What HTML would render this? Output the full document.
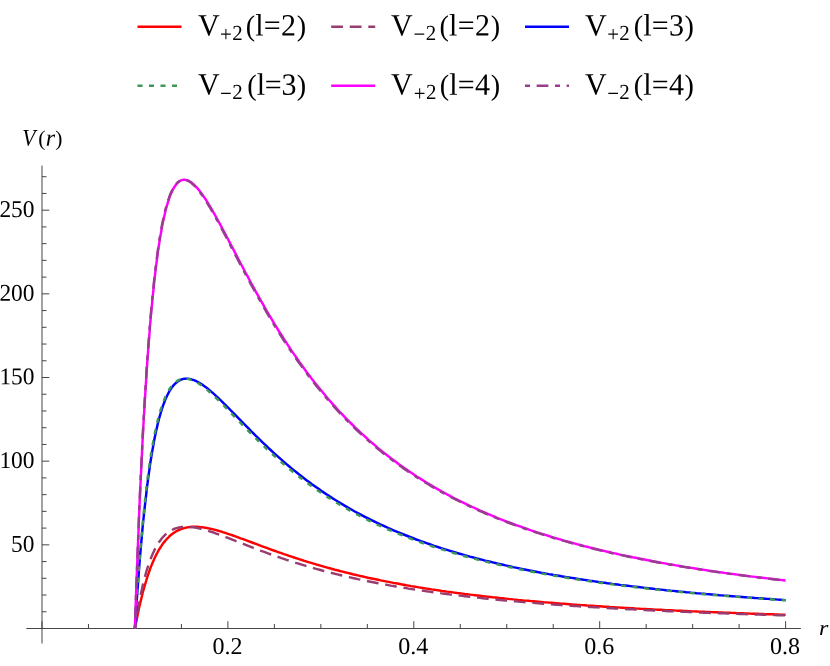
<!DOCTYPE html>
<html><head><meta charset="utf-8"><title>V(r)</title><style>
html,body{margin:0;padding:0;background:#fff;}
body{width:830px;height:666px;position:relative;overflow:hidden;font-family:"Liberation Serif",serif;}
</style></head><body>
<svg width="830" height="666" viewBox="0 0 830 666" style="position:absolute;left:0;top:0;will-change:transform">
<g stroke="#3c3c3c" stroke-width="0.95" fill="none">
<line x1="26.3" y1="628.5" x2="800.9" y2="628.5"/>
<line x1="42" y1="165.5" x2="42" y2="643.5"/>
<line x1="42.00" y1="628.5" x2="42.00" y2="621.20"/>
<line x1="88.47" y1="628.5" x2="88.47" y2="624.00"/>
<line x1="134.95" y1="628.5" x2="134.95" y2="624.00"/>
<line x1="181.43" y1="628.5" x2="181.43" y2="624.00"/>
<line x1="227.90" y1="628.5" x2="227.90" y2="621.20"/>
<line x1="274.38" y1="628.5" x2="274.38" y2="624.00"/>
<line x1="320.85" y1="628.5" x2="320.85" y2="624.00"/>
<line x1="367.33" y1="628.5" x2="367.33" y2="624.00"/>
<line x1="413.80" y1="628.5" x2="413.80" y2="621.20"/>
<line x1="460.28" y1="628.5" x2="460.28" y2="624.00"/>
<line x1="506.75" y1="628.5" x2="506.75" y2="624.00"/>
<line x1="553.23" y1="628.5" x2="553.23" y2="624.00"/>
<line x1="599.70" y1="628.5" x2="599.70" y2="621.20"/>
<line x1="646.18" y1="628.5" x2="646.18" y2="624.00"/>
<line x1="692.65" y1="628.5" x2="692.65" y2="624.00"/>
<line x1="739.12" y1="628.5" x2="739.12" y2="624.00"/>
<line x1="785.60" y1="628.5" x2="785.60" y2="621.20"/>
<line x1="42" y1="611.77" x2="46.50" y2="611.77"/>
<line x1="42" y1="595.03" x2="46.50" y2="595.03"/>
<line x1="42" y1="578.30" x2="46.50" y2="578.30"/>
<line x1="42" y1="561.57" x2="46.50" y2="561.57"/>
<line x1="42" y1="544.84" x2="49.30" y2="544.84"/>
<line x1="42" y1="528.10" x2="46.50" y2="528.10"/>
<line x1="42" y1="511.37" x2="46.50" y2="511.37"/>
<line x1="42" y1="494.64" x2="46.50" y2="494.64"/>
<line x1="42" y1="477.90" x2="46.50" y2="477.90"/>
<line x1="42" y1="461.17" x2="49.30" y2="461.17"/>
<line x1="42" y1="444.44" x2="46.50" y2="444.44"/>
<line x1="42" y1="427.70" x2="46.50" y2="427.70"/>
<line x1="42" y1="410.97" x2="46.50" y2="410.97"/>
<line x1="42" y1="394.24" x2="46.50" y2="394.24"/>
<line x1="42" y1="377.50" x2="49.30" y2="377.50"/>
<line x1="42" y1="360.77" x2="46.50" y2="360.77"/>
<line x1="42" y1="344.04" x2="46.50" y2="344.04"/>
<line x1="42" y1="327.31" x2="46.50" y2="327.31"/>
<line x1="42" y1="310.57" x2="46.50" y2="310.57"/>
<line x1="42" y1="293.84" x2="49.30" y2="293.84"/>
<line x1="42" y1="277.11" x2="46.50" y2="277.11"/>
<line x1="42" y1="260.37" x2="46.50" y2="260.37"/>
<line x1="42" y1="243.64" x2="46.50" y2="243.64"/>
<line x1="42" y1="226.91" x2="46.50" y2="226.91"/>
<line x1="42" y1="210.18" x2="49.30" y2="210.18"/>
<line x1="42" y1="193.44" x2="46.50" y2="193.44"/>
<line x1="42" y1="176.71" x2="46.50" y2="176.71"/>
</g>
<g fill="none" stroke-width="2.45" stroke-linejoin="round">
<path d="M134.9,628.5 L135.5,625.4 L136.1,622.3 L136.7,619.4 L137.3,616.5 L137.9,613.6 L138.5,610.9 L139.0,608.2 L139.6,605.6 L140.2,603.1 L140.8,600.6 L141.4,598.2 L142.0,595.8 L142.5,593.5 L143.1,591.3 L143.7,589.2 L144.3,587.1 L144.9,585.0 L145.5,583.0 L146.1,581.1 L146.6,579.2 L147.2,577.3 L147.8,575.6 L148.4,573.8 L149.0,572.1 L149.6,570.5 L150.1,568.9 L150.7,567.4 L151.3,565.9 L151.9,564.4 L152.5,563.0 L153.1,561.6 L153.7,560.3 L154.2,559.0 L154.8,557.7 L155.4,556.5 L156.0,555.3 L156.6,554.1 L157.2,553.0 L157.7,552.0 L158.3,550.9 L158.9,549.9 L159.5,548.9 L160.1,548.0 L160.7,547.0 L161.3,546.1 L161.8,545.3 L162.4,544.4 L163.0,543.6 L163.6,542.8 L164.2,542.1 L164.8,541.4 L165.3,540.6 L165.9,540.0 L166.5,539.3 L167.1,538.7 L167.7,538.1 L168.3,537.5 L168.9,536.9 L169.4,536.3 L170.0,535.8 L170.6,535.3 L171.2,534.8 L171.8,534.3 L172.4,533.9 L172.9,533.5 L173.5,533.0 L174.1,532.6 L174.7,532.3 L175.3,531.9 L175.9,531.5 L176.5,531.2 L177.0,530.9 L177.6,530.6 L178.2,530.3 L178.8,530.0 L179.4,529.8 L180.0,529.5 L180.5,529.3 L181.1,529.0 L181.7,528.8 L182.3,528.6 L182.9,528.5 L183.5,528.3 L184.1,528.1 L184.6,528.0 L185.2,527.8 L185.8,527.7 L186.4,527.6 L187.0,527.4 L187.6,527.3 L188.1,527.2 L188.7,527.2 L189.3,527.1 L189.9,527.0 L190.5,527.0 L191.1,526.9 L191.7,526.9 L192.2,526.8 L192.8,526.8 L193.4,526.8 L194.0,526.8 L194.6,526.8 L195.2,526.8 L195.7,526.8 L196.3,526.8 L196.9,526.8 L197.5,526.8 L198.1,526.9 L198.7,526.9 L199.3,527.0 L199.8,527.0 L200.4,527.1 L201.0,527.1 L201.6,527.2 L202.2,527.3 L202.8,527.3 L203.3,527.4 L203.9,527.5 L204.5,527.6 L205.1,527.7 L205.7,527.8 L206.3,527.9 L206.9,528.0 L207.4,528.1 L208.0,528.2 L208.6,528.4 L209.2,528.5 L209.8,528.6 L210.4,528.7 L210.9,528.9 L211.5,529.0 L212.1,529.1 L212.7,529.3 L213.3,529.4 L213.9,529.6 L214.5,529.7 L215.0,529.9 L215.6,530.0 L216.2,530.2 L216.8,530.4 L217.4,530.5 L218.0,530.7 L218.5,530.8 L219.1,531.0 L219.7,531.2 L220.3,531.4 L220.9,531.5 L221.5,531.7 L222.1,531.9 L222.6,532.1 L223.2,532.3 L223.8,532.4 L224.4,532.6 L225.0,532.8 L225.6,533.0 L226.1,533.2 L226.7,533.4 L227.3,533.6 L227.9,533.8 L230.4,534.6 L233.0,535.5 L235.5,536.4 L238.1,537.3 L240.6,538.3 L243.2,539.2 L245.7,540.1 L248.3,541.1 L250.8,542.0 L253.4,543.0 L255.9,543.9 L258.5,544.9 L261.0,545.8 L263.6,546.8 L266.1,547.7 L268.6,548.6 L271.2,549.6 L273.7,550.5 L276.3,551.4 L278.8,552.3 L281.4,553.2 L283.9,554.1 L286.5,554.9 L289.0,555.8 L291.6,556.7 L294.1,557.5 L296.7,558.3 L299.2,559.2 L301.8,560.0 L304.3,560.8 L306.8,561.6 L309.4,562.4 L311.9,563.1 L314.5,563.9 L317.0,564.7 L319.6,565.4 L322.1,566.1 L324.7,566.9 L327.2,567.6 L329.8,568.3 L332.3,569.0 L334.9,569.7 L337.4,570.3 L339.9,571.0 L342.5,571.6 L345.0,572.3 L347.6,572.9 L350.1,573.5 L352.7,574.2 L355.2,574.8 L357.8,575.4 L360.3,576.0 L362.9,576.5 L365.4,577.1 L368.0,577.7 L370.5,578.2 L373.1,578.8 L375.6,579.3 L378.1,579.8 L380.7,580.4 L383.2,580.9 L385.8,581.4 L388.3,581.9 L390.9,582.4 L393.4,582.9 L396.0,583.3 L398.5,583.8 L401.1,584.3 L403.6,584.7 L406.2,585.2 L408.7,585.6 L411.3,586.1 L413.8,586.5 L416.3,586.9 L418.9,587.4 L421.4,587.8 L424.0,588.2 L426.5,588.6 L429.1,589.0 L431.6,589.4 L434.2,589.7 L436.7,590.1 L439.3,590.5 L441.8,590.9 L444.4,591.2 L446.9,591.6 L449.5,591.9 L452.0,592.3 L454.5,592.6 L457.1,593.0 L459.6,593.3 L462.2,593.6 L464.7,594.0 L467.3,594.3 L469.8,594.6 L472.4,594.9 L474.9,595.2 L477.5,595.5 L480.0,595.8 L482.6,596.1 L485.1,596.4 L487.7,596.7 L490.2,597.0 L492.7,597.3 L495.3,597.5 L497.8,597.8 L500.4,598.1 L502.9,598.3 L505.5,598.6 L508.0,598.9 L510.6,599.1 L513.1,599.4 L515.7,599.6 L518.2,599.9 L520.8,600.1 L523.3,600.4 L525.8,600.6 L528.4,600.8 L530.9,601.1 L533.5,601.3 L536.0,601.5 L538.6,601.7 L541.1,601.9 L543.7,602.2 L546.2,602.4 L548.8,602.6 L551.3,602.8 L553.9,603.0 L556.4,603.2 L559.0,603.4 L561.5,603.6 L564.0,603.8 L566.6,604.0 L569.1,604.2 L571.7,604.4 L574.2,604.6 L576.8,604.8 L579.3,604.9 L581.9,605.1 L584.4,605.3 L587.0,605.5 L589.5,605.6 L592.1,605.8 L594.6,606.0 L597.2,606.2 L599.7,606.3 L602.2,606.5 L604.8,606.7 L607.3,606.8 L609.9,607.0 L612.4,607.1 L615.0,607.3 L617.5,607.4 L620.1,607.6 L622.6,607.7 L625.2,607.9 L627.7,608.0 L630.3,608.2 L632.8,608.3 L635.4,608.5 L637.9,608.6 L640.4,608.8 L643.0,608.9 L645.5,609.0 L648.1,609.2 L650.6,609.3 L653.2,609.4 L655.7,609.6 L658.3,609.7 L660.8,609.8 L663.4,609.9 L665.9,610.1 L668.5,610.2 L671.0,610.3 L673.6,610.4 L676.1,610.6 L678.6,610.7 L681.2,610.8 L683.7,610.9 L686.3,611.0 L688.8,611.1 L691.4,611.3 L693.9,611.4 L696.5,611.5 L699.0,611.6 L701.6,611.7 L704.1,611.8 L706.7,611.9 L709.2,612.0 L711.7,612.1 L714.3,612.2 L716.8,612.3 L719.4,612.4 L721.9,612.5 L724.5,612.6 L727.0,612.7 L729.6,612.8 L732.1,612.9 L734.7,613.0 L737.2,613.1 L739.8,613.2 L742.3,613.3 L744.9,613.4 L747.4,613.5 L749.9,613.6 L752.5,613.7 L755.0,613.7 L757.6,613.8 L760.1,613.9 L762.7,614.0 L765.2,614.1 L767.8,614.2 L770.3,614.3 L772.9,614.3 L775.4,614.4 L778.0,614.5 L780.5,614.6 L783.1,614.7 L785.6,614.7" stroke="#ff0000"/>
<path d="M134.9,628.5 L135.5,624.5 L136.1,620.6 L136.7,616.9 L137.3,613.4 L137.9,609.9 L138.5,606.6 L139.0,603.4 L139.6,600.3 L140.2,597.3 L140.8,594.4 L141.4,591.6 L142.0,589.0 L142.5,586.4 L143.1,583.9 L143.7,581.5 L144.3,579.2 L144.9,577.0 L145.5,574.8 L146.1,572.7 L146.6,570.7 L147.2,568.8 L147.8,567.0 L148.4,565.2 L149.0,563.5 L149.6,561.8 L150.1,560.2 L150.7,558.7 L151.3,557.2 L151.9,555.8 L152.5,554.4 L153.1,553.1 L153.7,551.8 L154.2,550.6 L154.8,549.4 L155.4,548.3 L156.0,547.2 L156.6,546.1 L157.2,545.1 L157.7,544.2 L158.3,543.2 L158.9,542.3 L159.5,541.5 L160.1,540.7 L160.7,539.9 L161.3,539.1 L161.8,538.4 L162.4,537.7 L163.0,537.0 L163.6,536.4 L164.2,535.8 L164.8,535.2 L165.3,534.7 L165.9,534.1 L166.5,533.6 L167.1,533.1 L167.7,532.7 L168.3,532.3 L168.9,531.8 L169.4,531.4 L170.0,531.1 L170.6,530.7 L171.2,530.4 L171.8,530.1 L172.4,529.8 L172.9,529.5 L173.5,529.2 L174.1,529.0 L174.7,528.7 L175.3,528.5 L175.9,528.3 L176.5,528.1 L177.0,528.0 L177.6,527.8 L178.2,527.7 L178.8,527.5 L179.4,527.4 L180.0,527.3 L180.5,527.2 L181.1,527.1 L181.7,527.0 L182.3,527.0 L182.9,526.9 L183.5,526.8 L184.1,526.8 L184.6,526.8 L185.2,526.8 L185.8,526.8 L186.4,526.8 L187.0,526.8 L187.6,526.8 L188.1,526.8 L188.7,526.8 L189.3,526.9 L189.9,526.9 L190.5,527.0 L191.1,527.0 L191.7,527.1 L192.2,527.2 L192.8,527.2 L193.4,527.3 L194.0,527.4 L194.6,527.5 L195.2,527.6 L195.7,527.7 L196.3,527.8 L196.9,527.9 L197.5,528.0 L198.1,528.2 L198.7,528.3 L199.3,528.4 L199.8,528.6 L200.4,528.7 L201.0,528.8 L201.6,529.0 L202.2,529.1 L202.8,529.3 L203.3,529.4 L203.9,529.6 L204.5,529.8 L205.1,529.9 L205.7,530.1 L206.3,530.3 L206.9,530.5 L207.4,530.6 L208.0,530.8 L208.6,531.0 L209.2,531.2 L209.8,531.4 L210.4,531.6 L210.9,531.8 L211.5,531.9 L212.1,532.1 L212.7,532.3 L213.3,532.5 L213.9,532.7 L214.5,532.9 L215.0,533.1 L215.6,533.4 L216.2,533.6 L216.8,533.8 L217.4,534.0 L218.0,534.2 L218.5,534.4 L219.1,534.6 L219.7,534.8 L220.3,535.0 L220.9,535.3 L221.5,535.5 L222.1,535.7 L222.6,535.9 L223.2,536.1 L223.8,536.4 L224.4,536.6 L225.0,536.8 L225.6,537.0 L226.1,537.3 L226.7,537.5 L227.3,537.7 L227.9,537.9 L230.4,538.9 L233.0,539.9 L235.5,540.9 L238.1,541.9 L240.6,542.9 L243.2,543.9 L245.7,544.9 L248.3,545.9 L250.8,546.9 L253.4,547.9 L255.9,548.9 L258.5,549.8 L261.0,550.8 L263.6,551.7 L266.1,552.7 L268.6,553.6 L271.2,554.5 L273.7,555.4 L276.3,556.3 L278.8,557.2 L281.4,558.1 L283.9,558.9 L286.5,559.8 L289.0,560.6 L291.6,561.4 L294.1,562.2 L296.7,563.1 L299.2,563.8 L301.8,564.6 L304.3,565.4 L306.8,566.1 L309.4,566.9 L311.9,567.6 L314.5,568.4 L317.0,569.1 L319.6,569.8 L322.1,570.5 L324.7,571.1 L327.2,571.8 L329.8,572.5 L332.3,573.1 L334.9,573.8 L337.4,574.4 L339.9,575.0 L342.5,575.6 L345.0,576.2 L347.6,576.8 L350.1,577.4 L352.7,578.0 L355.2,578.5 L357.8,579.1 L360.3,579.6 L362.9,580.2 L365.4,580.7 L368.0,581.2 L370.5,581.7 L373.1,582.2 L375.6,582.7 L378.1,583.2 L380.7,583.7 L383.2,584.2 L385.8,584.6 L388.3,585.1 L390.9,585.6 L393.4,586.0 L396.0,586.5 L398.5,586.9 L401.1,587.3 L403.6,587.7 L406.2,588.1 L408.7,588.6 L411.3,589.0 L413.8,589.4 L416.3,589.7 L418.9,590.1 L421.4,590.5 L424.0,590.9 L426.5,591.3 L429.1,591.6 L431.6,592.0 L434.2,592.3 L436.7,592.7 L439.3,593.0 L441.8,593.4 L444.4,593.7 L446.9,594.0 L449.5,594.4 L452.0,594.7 L454.5,595.0 L457.1,595.3 L459.6,595.6 L462.2,595.9 L464.7,596.2 L467.3,596.5 L469.8,596.8 L472.4,597.1 L474.9,597.4 L477.5,597.6 L480.0,597.9 L482.6,598.2 L485.1,598.5 L487.7,598.7 L490.2,599.0 L492.7,599.2 L495.3,599.5 L497.8,599.7 L500.4,600.0 L502.9,600.2 L505.5,600.5 L508.0,600.7 L510.6,600.9 L513.1,601.2 L515.7,601.4 L518.2,601.6 L520.8,601.9 L523.3,602.1 L525.8,602.3 L528.4,602.5 L530.9,602.7 L533.5,602.9 L536.0,603.1 L538.6,603.3 L541.1,603.5 L543.7,603.7 L546.2,603.9 L548.8,604.1 L551.3,604.3 L553.9,604.5 L556.4,604.7 L559.0,604.9 L561.5,605.1 L564.0,605.3 L566.6,605.4 L569.1,605.6 L571.7,605.8 L574.2,606.0 L576.8,606.1 L579.3,606.3 L581.9,606.5 L584.4,606.6 L587.0,606.8 L589.5,607.0 L592.1,607.1 L594.6,607.3 L597.2,607.4 L599.7,607.6 L602.2,607.7 L604.8,607.9 L607.3,608.0 L609.9,608.2 L612.4,608.3 L615.0,608.5 L617.5,608.6 L620.1,608.8 L622.6,608.9 L625.2,609.0 L627.7,609.2 L630.3,609.3 L632.8,609.4 L635.4,609.6 L637.9,609.7 L640.4,609.8 L643.0,610.0 L645.5,610.1 L648.1,610.2 L650.6,610.3 L653.2,610.5 L655.7,610.6 L658.3,610.7 L660.8,610.8 L663.4,610.9 L665.9,611.0 L668.5,611.2 L671.0,611.3 L673.6,611.4 L676.1,611.5 L678.6,611.6 L681.2,611.7 L683.7,611.8 L686.3,611.9 L688.8,612.0 L691.4,612.1 L693.9,612.2 L696.5,612.4 L699.0,612.5 L701.6,612.6 L704.1,612.7 L706.7,612.8 L709.2,612.9 L711.7,612.9 L714.3,613.0 L716.8,613.1 L719.4,613.2 L721.9,613.3 L724.5,613.4 L727.0,613.5 L729.6,613.6 L732.1,613.7 L734.7,613.8 L737.2,613.9 L739.8,614.0 L742.3,614.0 L744.9,614.1 L747.4,614.2 L749.9,614.3 L752.5,614.4 L755.0,614.5 L757.6,614.5 L760.1,614.6 L762.7,614.7 L765.2,614.8 L767.8,614.9 L770.3,614.9 L772.9,615.0 L775.4,615.1 L778.0,615.2 L780.5,615.2 L783.1,615.3 L785.6,615.4" stroke="#993d71" stroke-dasharray="11.75 6.8" stroke-dashoffset="3"/>
<path d="M134.9,628.5 L135.5,619.2 L136.1,610.1 L136.7,601.4 L137.3,593.0 L137.9,584.8 L138.5,576.9 L139.0,569.3 L139.6,561.9 L140.2,554.7 L140.8,547.8 L141.4,541.2 L142.0,534.7 L142.5,528.5 L143.1,522.5 L143.7,516.7 L144.3,511.0 L144.9,505.6 L145.5,500.4 L146.1,495.3 L146.6,490.4 L147.2,485.7 L147.8,481.1 L148.4,476.7 L149.0,472.4 L149.6,468.3 L150.1,464.3 L150.7,460.5 L151.3,456.8 L151.9,453.2 L152.5,449.8 L153.1,446.5 L153.7,443.3 L154.2,440.2 L154.8,437.2 L155.4,434.4 L156.0,431.6 L156.6,429.0 L157.2,426.4 L157.7,424.0 L158.3,421.6 L158.9,419.3 L159.5,417.1 L160.1,415.1 L160.7,413.0 L161.3,411.1 L161.8,409.2 L162.4,407.5 L163.0,405.7 L163.6,404.1 L164.2,402.5 L164.8,401.0 L165.3,399.6 L165.9,398.2 L166.5,396.9 L167.1,395.7 L167.7,394.5 L168.3,393.3 L168.9,392.2 L169.4,391.2 L170.0,390.2 L170.6,389.3 L171.2,388.4 L171.8,387.6 L172.4,386.8 L172.9,386.1 L173.5,385.4 L174.1,384.7 L174.7,384.1 L175.3,383.5 L175.9,383.0 L176.5,382.5 L177.0,382.0 L177.6,381.6 L178.2,381.2 L178.8,380.8 L179.4,380.5 L180.0,380.2 L180.5,379.9 L181.1,379.6 L181.7,379.4 L182.3,379.2 L182.9,379.1 L183.5,378.9 L184.1,378.8 L184.6,378.8 L185.2,378.7 L185.8,378.7 L186.4,378.6 L187.0,378.6 L187.6,378.7 L188.1,378.7 L188.7,378.8 L189.3,378.9 L189.9,379.0 L190.5,379.1 L191.1,379.2 L191.7,379.4 L192.2,379.6 L192.8,379.8 L193.4,380.0 L194.0,380.2 L194.6,380.4 L195.2,380.7 L195.7,380.9 L196.3,381.2 L196.9,381.5 L197.5,381.8 L198.1,382.1 L198.7,382.4 L199.3,382.8 L199.8,383.1 L200.4,383.5 L201.0,383.8 L201.6,384.2 L202.2,384.6 L202.8,385.0 L203.3,385.4 L203.9,385.8 L204.5,386.2 L205.1,386.7 L205.7,387.1 L206.3,387.6 L206.9,388.0 L207.4,388.5 L208.0,388.9 L208.6,389.4 L209.2,389.9 L209.8,390.4 L210.4,390.9 L210.9,391.4 L211.5,391.9 L212.1,392.4 L212.7,392.9 L213.3,393.4 L213.9,393.9 L214.5,394.5 L215.0,395.0 L215.6,395.5 L216.2,396.1 L216.8,396.6 L217.4,397.2 L218.0,397.7 L218.5,398.3 L219.1,398.8 L219.7,399.4 L220.3,399.9 L220.9,400.5 L221.5,401.1 L222.1,401.6 L222.6,402.2 L223.2,402.8 L223.8,403.4 L224.4,403.9 L225.0,404.5 L225.6,405.1 L226.1,405.7 L226.7,406.3 L227.3,406.9 L227.9,407.4 L230.4,410.0 L233.0,412.6 L235.5,415.2 L238.1,417.8 L240.6,420.4 L243.2,423.0 L245.7,425.6 L248.3,428.2 L250.8,430.8 L253.4,433.3 L255.9,435.9 L258.5,438.4 L261.0,440.9 L263.6,443.3 L266.1,445.7 L268.6,448.1 L271.2,450.5 L273.7,452.8 L276.3,455.2 L278.8,457.4 L281.4,459.7 L283.9,461.9 L286.5,464.1 L289.0,466.2 L291.6,468.4 L294.1,470.4 L296.7,472.5 L299.2,474.5 L301.8,476.5 L304.3,478.5 L306.8,480.4 L309.4,482.3 L311.9,484.2 L314.5,486.0 L317.0,487.8 L319.6,489.6 L322.1,491.4 L324.7,493.1 L327.2,494.8 L329.8,496.4 L332.3,498.1 L334.9,499.7 L337.4,501.3 L339.9,502.8 L342.5,504.4 L345.0,505.9 L347.6,507.4 L350.1,508.8 L352.7,510.3 L355.2,511.7 L357.8,513.1 L360.3,514.4 L362.9,515.8 L365.4,517.1 L368.0,518.4 L370.5,519.7 L373.1,520.9 L375.6,522.2 L378.1,523.4 L380.7,524.6 L383.2,525.7 L385.8,526.9 L388.3,528.0 L390.9,529.2 L393.4,530.3 L396.0,531.4 L398.5,532.4 L401.1,533.5 L403.6,534.5 L406.2,535.5 L408.7,536.5 L411.3,537.5 L413.8,538.5 L416.3,539.5 L418.9,540.4 L421.4,541.3 L424.0,542.2 L426.5,543.2 L429.1,544.0 L431.6,544.9 L434.2,545.8 L436.7,546.6 L439.3,547.5 L441.8,548.3 L444.4,549.1 L446.9,549.9 L449.5,550.7 L452.0,551.4 L454.5,552.2 L457.1,553.0 L459.6,553.7 L462.2,554.4 L464.7,555.2 L467.3,555.9 L469.8,556.6 L472.4,557.2 L474.9,557.9 L477.5,558.6 L480.0,559.3 L482.6,559.9 L485.1,560.6 L487.7,561.2 L490.2,561.8 L492.7,562.4 L495.3,563.0 L497.8,563.6 L500.4,564.2 L502.9,564.8 L505.5,565.4 L508.0,565.9 L510.6,566.5 L513.1,567.1 L515.7,567.6 L518.2,568.1 L520.8,568.7 L523.3,569.2 L525.8,569.7 L528.4,570.2 L530.9,570.7 L533.5,571.2 L536.0,571.7 L538.6,572.2 L541.1,572.7 L543.7,573.1 L546.2,573.6 L548.8,574.1 L551.3,574.5 L553.9,575.0 L556.4,575.4 L559.0,575.8 L561.5,576.3 L564.0,576.7 L566.6,577.1 L569.1,577.5 L571.7,577.9 L574.2,578.3 L576.8,578.7 L579.3,579.1 L581.9,579.5 L584.4,579.9 L587.0,580.3 L589.5,580.7 L592.1,581.0 L594.6,581.4 L597.2,581.8 L599.7,582.1 L602.2,582.5 L604.8,582.8 L607.3,583.2 L609.9,583.5 L612.4,583.9 L615.0,584.2 L617.5,584.5 L620.1,584.9 L622.6,585.2 L625.2,585.5 L627.7,585.8 L630.3,586.1 L632.8,586.4 L635.4,586.7 L637.9,587.0 L640.4,587.3 L643.0,587.6 L645.5,587.9 L648.1,588.2 L650.6,588.5 L653.2,588.8 L655.7,589.1 L658.3,589.3 L660.8,589.6 L663.4,589.9 L665.9,590.2 L668.5,590.4 L671.0,590.7 L673.6,590.9 L676.1,591.2 L678.6,591.5 L681.2,591.7 L683.7,591.9 L686.3,592.2 L688.8,592.4 L691.4,592.7 L693.9,592.9 L696.5,593.2 L699.0,593.4 L701.6,593.6 L704.1,593.8 L706.7,594.1 L709.2,594.3 L711.7,594.5 L714.3,594.7 L716.8,594.9 L719.4,595.2 L721.9,595.4 L724.5,595.6 L727.0,595.8 L729.6,596.0 L732.1,596.2 L734.7,596.4 L737.2,596.6 L739.8,596.8 L742.3,597.0 L744.9,597.2 L747.4,597.4 L749.9,597.6 L752.5,597.8 L755.0,598.0 L757.6,598.1 L760.1,598.3 L762.7,598.5 L765.2,598.7 L767.8,598.9 L770.3,599.0 L772.9,599.2 L775.4,599.4 L778.0,599.6 L780.5,599.7 L783.1,599.9 L785.6,600.1" stroke="#0000ff"/>
<path d="M134.9,628.5 L135.5,618.7 L136.1,609.2 L136.7,600.1 L137.3,591.3 L137.9,582.8 L138.5,574.6 L139.0,566.7 L139.6,559.1 L140.2,551.7 L140.8,544.6 L141.4,537.8 L142.0,531.1 L142.5,524.8 L143.1,518.6 L143.7,512.7 L144.3,507.0 L144.9,501.5 L145.5,496.1 L146.1,491.0 L146.6,486.1 L147.2,481.3 L147.8,476.7 L148.4,472.3 L149.0,468.0 L149.6,463.9 L150.1,460.0 L150.7,456.2 L151.3,452.5 L151.9,449.0 L152.5,445.6 L153.1,442.3 L153.7,439.1 L154.2,436.1 L154.8,433.2 L155.4,430.4 L156.0,427.7 L156.6,425.1 L157.2,422.6 L157.7,420.2 L158.3,418.0 L158.9,415.8 L159.5,413.6 L160.1,411.6 L160.7,409.7 L161.3,407.8 L161.8,406.1 L162.4,404.4 L163.0,402.7 L163.6,401.2 L164.2,399.7 L164.8,398.3 L165.3,396.9 L165.9,395.6 L166.5,394.4 L167.1,393.2 L167.7,392.1 L168.3,391.1 L168.9,390.1 L169.4,389.1 L170.0,388.2 L170.6,387.4 L171.2,386.6 L171.8,385.9 L172.4,385.1 L172.9,384.5 L173.5,383.9 L174.1,383.3 L174.7,382.7 L175.3,382.2 L175.9,381.8 L176.5,381.4 L177.0,381.0 L177.6,380.6 L178.2,380.3 L178.8,380.0 L179.4,379.7 L180.0,379.5 L180.5,379.3 L181.1,379.1 L181.7,379.0 L182.3,378.9 L182.9,378.8 L183.5,378.7 L184.1,378.7 L184.6,378.6 L185.2,378.6 L185.8,378.7 L186.4,378.7 L187.0,378.8 L187.6,378.9 L188.1,379.0 L188.7,379.1 L189.3,379.2 L189.9,379.4 L190.5,379.6 L191.1,379.8 L191.7,380.0 L192.2,380.2 L192.8,380.4 L193.4,380.7 L194.0,381.0 L194.6,381.2 L195.2,381.5 L195.7,381.9 L196.3,382.2 L196.9,382.5 L197.5,382.9 L198.1,383.2 L198.7,383.6 L199.3,384.0 L199.8,384.3 L200.4,384.7 L201.0,385.1 L201.6,385.6 L202.2,386.0 L202.8,386.4 L203.3,386.9 L203.9,387.3 L204.5,387.8 L205.1,388.2 L205.7,388.7 L206.3,389.2 L206.9,389.7 L207.4,390.1 L208.0,390.6 L208.6,391.1 L209.2,391.7 L209.8,392.2 L210.4,392.7 L210.9,393.2 L211.5,393.7 L212.1,394.3 L212.7,394.8 L213.3,395.4 L213.9,395.9 L214.5,396.4 L215.0,397.0 L215.6,397.6 L216.2,398.1 L216.8,398.7 L217.4,399.3 L218.0,399.8 L218.5,400.4 L219.1,401.0 L219.7,401.5 L220.3,402.1 L220.9,402.7 L221.5,403.3 L222.1,403.9 L222.6,404.5 L223.2,405.1 L223.8,405.6 L224.4,406.2 L225.0,406.8 L225.6,407.4 L226.1,408.0 L226.7,408.6 L227.3,409.2 L227.9,409.8 L230.4,412.5 L233.0,415.1 L235.5,417.7 L238.1,420.4 L240.6,423.0 L243.2,425.6 L245.7,428.2 L248.3,430.8 L250.8,433.4 L253.4,436.0 L255.9,438.5 L258.5,441.0 L261.0,443.5 L263.6,445.9 L266.1,448.3 L268.6,450.7 L271.2,453.1 L273.7,455.4 L276.3,457.7 L278.8,460.0 L281.4,462.2 L283.9,464.4 L286.5,466.5 L289.0,468.7 L291.6,470.8 L294.1,472.8 L296.7,474.9 L299.2,476.9 L301.8,478.8 L304.3,480.8 L306.8,482.7 L309.4,484.6 L311.9,486.4 L314.5,488.2 L317.0,490.0 L319.6,491.8 L322.1,493.5 L324.7,495.2 L327.2,496.9 L329.8,498.5 L332.3,500.1 L334.9,501.7 L337.4,503.3 L339.9,504.8 L342.5,506.3 L345.0,507.8 L347.6,509.2 L350.1,510.7 L352.7,512.1 L355.2,513.5 L357.8,514.8 L360.3,516.2 L362.9,517.5 L365.4,518.8 L368.0,520.1 L370.5,521.3 L373.1,522.6 L375.6,523.8 L378.1,525.0 L380.7,526.2 L383.2,527.3 L385.8,528.5 L388.3,529.6 L390.9,530.7 L393.4,531.8 L396.0,532.8 L398.5,533.9 L401.1,534.9 L403.6,535.9 L406.2,536.9 L408.7,537.9 L411.3,538.9 L413.8,539.8 L416.3,540.8 L418.9,541.7 L421.4,542.6 L424.0,543.5 L426.5,544.4 L429.1,545.3 L431.6,546.1 L434.2,547.0 L436.7,547.8 L439.3,548.6 L441.8,549.4 L444.4,550.2 L446.9,551.0 L449.5,551.8 L452.0,552.5 L454.5,553.3 L457.1,554.0 L459.6,554.8 L462.2,555.5 L464.7,556.2 L467.3,556.9 L469.8,557.6 L472.4,558.2 L474.9,558.9 L477.5,559.6 L480.0,560.2 L482.6,560.9 L485.1,561.5 L487.7,562.1 L490.2,562.7 L492.7,563.3 L495.3,563.9 L497.8,564.5 L500.4,565.1 L502.9,565.7 L505.5,566.2 L508.0,566.8 L510.6,567.3 L513.1,567.9 L515.7,568.4 L518.2,568.9 L520.8,569.5 L523.3,570.0 L525.8,570.5 L528.4,571.0 L530.9,571.5 L533.5,572.0 L536.0,572.4 L538.6,572.9 L541.1,573.4 L543.7,573.9 L546.2,574.3 L548.8,574.8 L551.3,575.2 L553.9,575.6 L556.4,576.1 L559.0,576.5 L561.5,576.9 L564.0,577.3 L566.6,577.8 L569.1,578.2 L571.7,578.6 L574.2,579.0 L576.8,579.4 L579.3,579.8 L581.9,580.1 L584.4,580.5 L587.0,580.9 L589.5,581.3 L592.1,581.6 L594.6,582.0 L597.2,582.3 L599.7,582.7 L602.2,583.0 L604.8,583.4 L607.3,583.7 L609.9,584.1 L612.4,584.4 L615.0,584.7 L617.5,585.1 L620.1,585.4 L622.6,585.7 L625.2,586.0 L627.7,586.3 L630.3,586.6 L632.8,586.9 L635.4,587.2 L637.9,587.5 L640.4,587.8 L643.0,588.1 L645.5,588.4 L648.1,588.7 L650.6,589.0 L653.2,589.2 L655.7,589.5 L658.3,589.8 L660.8,590.1 L663.4,590.3 L665.9,590.6 L668.5,590.8 L671.0,591.1 L673.6,591.4 L676.1,591.6 L678.6,591.9 L681.2,592.1 L683.7,592.4 L686.3,592.6 L688.8,592.8 L691.4,593.1 L693.9,593.3 L696.5,593.5 L699.0,593.8 L701.6,594.0 L704.1,594.2 L706.7,594.4 L709.2,594.7 L711.7,594.9 L714.3,595.1 L716.8,595.3 L719.4,595.5 L721.9,595.7 L724.5,595.9 L727.0,596.1 L729.6,596.3 L732.1,596.5 L734.7,596.7 L737.2,596.9 L739.8,597.1 L742.3,597.3 L744.9,597.5 L747.4,597.7 L749.9,597.9 L752.5,598.1 L755.0,598.3 L757.6,598.4 L760.1,598.6 L762.7,598.8 L765.2,599.0 L767.8,599.2 L770.3,599.3 L772.9,599.5 L775.4,599.7 L778.0,599.8 L780.5,600.0 L783.1,600.2 L785.6,600.3" stroke="#3d9956" stroke-dasharray="5 6.5"/>
<path d="M134.9,628.5 L135.5,610.9 L136.1,593.9 L136.7,577.4 L137.3,561.6 L137.9,546.3 L138.5,531.6 L139.0,517.3 L139.6,503.6 L140.2,490.3 L140.8,477.5 L141.4,465.2 L142.0,453.3 L142.5,441.8 L143.1,430.7 L143.7,420.0 L144.3,409.7 L144.9,399.7 L145.5,390.2 L146.1,380.9 L146.6,372.0 L147.2,363.4 L147.8,355.1 L148.4,347.1 L149.0,339.4 L149.6,332.0 L150.1,324.9 L150.7,318.0 L151.3,311.4 L151.9,305.0 L152.5,298.9 L153.1,293.0 L153.7,287.3 L154.2,281.9 L154.8,276.6 L155.4,271.6 L156.0,266.7 L156.6,262.1 L157.2,257.6 L157.7,253.3 L158.3,249.2 L158.9,245.3 L159.5,241.5 L160.1,237.8 L160.7,234.4 L161.3,231.0 L161.8,227.9 L162.4,224.8 L163.0,221.9 L163.6,219.1 L164.2,216.5 L164.8,214.0 L165.3,211.5 L165.9,209.2 L166.5,207.1 L167.1,205.0 L167.7,203.0 L168.3,201.2 L168.9,199.4 L169.4,197.7 L170.0,196.1 L170.6,194.6 L171.2,193.2 L171.8,191.9 L172.4,190.7 L172.9,189.5 L173.5,188.5 L174.1,187.4 L174.7,186.5 L175.3,185.6 L175.9,184.9 L176.5,184.1 L177.0,183.5 L177.6,182.9 L178.2,182.3 L178.8,181.8 L179.4,181.4 L180.0,181.0 L180.5,180.7 L181.1,180.4 L181.7,180.2 L182.3,180.0 L182.9,179.9 L183.5,179.8 L184.1,179.8 L184.6,179.8 L185.2,179.9 L185.8,179.9 L186.4,180.1 L187.0,180.2 L187.6,180.4 L188.1,180.7 L188.7,180.9 L189.3,181.2 L189.9,181.6 L190.5,181.9 L191.1,182.3 L191.7,182.8 L192.2,183.2 L192.8,183.7 L193.4,184.2 L194.0,184.7 L194.6,185.3 L195.2,185.9 L195.7,186.5 L196.3,187.1 L196.9,187.7 L197.5,188.4 L198.1,189.1 L198.7,189.8 L199.3,190.5 L199.8,191.3 L200.4,192.0 L201.0,192.8 L201.6,193.6 L202.2,194.4 L202.8,195.2 L203.3,196.1 L203.9,196.9 L204.5,197.8 L205.1,198.6 L205.7,199.5 L206.3,200.4 L206.9,201.4 L207.4,202.3 L208.0,203.2 L208.6,204.2 L209.2,205.1 L209.8,206.1 L210.4,207.1 L210.9,208.0 L211.5,209.0 L212.1,210.0 L212.7,211.0 L213.3,212.1 L213.9,213.1 L214.5,214.1 L215.0,215.1 L215.6,216.2 L216.2,217.2 L216.8,218.3 L217.4,219.3 L218.0,220.4 L218.5,221.5 L219.1,222.5 L219.7,223.6 L220.3,224.7 L220.9,225.8 L221.5,226.9 L222.1,228.0 L222.6,229.1 L223.2,230.2 L223.8,231.3 L224.4,232.4 L225.0,233.5 L225.6,234.6 L226.1,235.7 L226.7,236.8 L227.3,237.9 L227.9,239.0 L230.4,243.9 L233.0,248.7 L235.5,253.6 L238.1,258.5 L240.6,263.3 L243.2,268.2 L245.7,273.0 L248.3,277.7 L250.8,282.5 L253.4,287.1 L255.9,291.8 L258.5,296.4 L261.0,300.9 L263.6,305.4 L266.1,309.8 L268.6,314.1 L271.2,318.4 L273.7,322.7 L276.3,326.9 L278.8,331.0 L281.4,335.0 L283.9,339.0 L286.5,342.9 L289.0,346.8 L291.6,350.6 L294.1,354.4 L296.7,358.0 L299.2,361.7 L301.8,365.2 L304.3,368.7 L306.8,372.2 L309.4,375.6 L311.9,378.9 L314.5,382.2 L317.0,385.4 L319.6,388.5 L322.1,391.6 L324.7,394.7 L327.2,397.7 L329.8,400.7 L332.3,403.6 L334.9,406.4 L337.4,409.2 L339.9,412.0 L342.5,414.7 L345.0,417.3 L347.6,419.9 L350.1,422.5 L352.7,425.0 L355.2,427.5 L357.8,430.0 L360.3,432.4 L362.9,434.7 L365.4,437.0 L368.0,439.3 L370.5,441.6 L373.1,443.8 L375.6,445.9 L378.1,448.1 L380.7,450.2 L383.2,452.2 L385.8,454.3 L388.3,456.3 L390.9,458.2 L393.4,460.1 L396.0,462.0 L398.5,463.9 L401.1,465.8 L403.6,467.6 L406.2,469.3 L408.7,471.1 L411.3,472.8 L413.8,474.5 L416.3,476.2 L418.9,477.8 L421.4,479.4 L424.0,481.0 L426.5,482.6 L429.1,484.1 L431.6,485.6 L434.2,487.1 L436.7,488.6 L439.3,490.1 L441.8,491.5 L444.4,492.9 L446.9,494.3 L449.5,495.6 L452.0,497.0 L454.5,498.3 L457.1,499.6 L459.6,500.9 L462.2,502.2 L464.7,503.4 L467.3,504.6 L469.8,505.8 L472.4,507.0 L474.9,508.2 L477.5,509.4 L480.0,510.5 L482.6,511.6 L485.1,512.7 L487.7,513.8 L490.2,514.9 L492.7,516.0 L495.3,517.0 L497.8,518.1 L500.4,519.1 L502.9,520.1 L505.5,521.1 L508.0,522.1 L510.6,523.0 L513.1,524.0 L515.7,524.9 L518.2,525.8 L520.8,526.7 L523.3,527.6 L525.8,528.5 L528.4,529.4 L530.9,530.3 L533.5,531.1 L536.0,532.0 L538.6,532.8 L541.1,533.6 L543.7,534.4 L546.2,535.2 L548.8,536.0 L551.3,536.8 L553.9,537.6 L556.4,538.3 L559.0,539.1 L561.5,539.8 L564.0,540.6 L566.6,541.3 L569.1,542.0 L571.7,542.7 L574.2,543.4 L576.8,544.1 L579.3,544.7 L581.9,545.4 L584.4,546.1 L587.0,546.7 L589.5,547.4 L592.1,548.0 L594.6,548.6 L597.2,549.3 L599.7,549.9 L602.2,550.5 L604.8,551.1 L607.3,551.7 L609.9,552.3 L612.4,552.9 L615.0,553.4 L617.5,554.0 L620.1,554.6 L622.6,555.1 L625.2,555.7 L627.7,556.2 L630.3,556.7 L632.8,557.3 L635.4,557.8 L637.9,558.3 L640.4,558.8 L643.0,559.3 L645.5,559.8 L648.1,560.3 L650.6,560.8 L653.2,561.3 L655.7,561.7 L658.3,562.2 L660.8,562.7 L663.4,563.1 L665.9,563.6 L668.5,564.1 L671.0,564.5 L673.6,564.9 L676.1,565.4 L678.6,565.8 L681.2,566.2 L683.7,566.7 L686.3,567.1 L688.8,567.5 L691.4,567.9 L693.9,568.3 L696.5,568.7 L699.0,569.1 L701.6,569.5 L704.1,569.9 L706.7,570.3 L709.2,570.7 L711.7,571.0 L714.3,571.4 L716.8,571.8 L719.4,572.1 L721.9,572.5 L724.5,572.9 L727.0,573.2 L729.6,573.6 L732.1,573.9 L734.7,574.3 L737.2,574.6 L739.8,574.9 L742.3,575.3 L744.9,575.6 L747.4,575.9 L749.9,576.3 L752.5,576.6 L755.0,576.9 L757.6,577.2 L760.1,577.5 L762.7,577.8 L765.2,578.1 L767.8,578.4 L770.3,578.7 L772.9,579.0 L775.4,579.3 L778.0,579.6 L780.5,579.9 L783.1,580.2 L785.6,580.5" stroke="#ff00ff"/>
<path d="M134.9,628.5 L135.5,610.6 L136.1,593.3 L136.7,576.6 L137.3,560.6 L137.9,545.1 L138.5,530.1 L139.0,515.7 L139.6,501.8 L140.2,488.5 L140.8,475.5 L141.4,463.1 L142.0,451.1 L142.5,439.5 L143.1,428.3 L143.7,417.6 L144.3,407.2 L144.9,397.2 L145.5,387.6 L146.1,378.3 L146.6,369.4 L147.2,360.8 L147.8,352.5 L148.4,344.5 L149.0,336.8 L149.6,329.4 L150.1,322.3 L150.7,315.4 L151.3,308.8 L151.9,302.5 L152.5,296.4 L153.1,290.5 L153.7,284.9 L154.2,279.4 L154.8,274.2 L155.4,269.2 L156.0,264.4 L156.6,259.8 L157.2,255.4 L157.7,251.1 L158.3,247.1 L158.9,243.2 L159.5,239.4 L160.1,235.8 L160.7,232.4 L161.3,229.2 L161.8,226.0 L162.4,223.0 L163.0,220.2 L163.6,217.4 L164.2,214.8 L164.8,212.4 L165.3,210.0 L165.9,207.8 L166.5,205.6 L167.1,203.6 L167.7,201.7 L168.3,199.9 L168.9,198.2 L169.4,196.6 L170.0,195.0 L170.6,193.6 L171.2,192.2 L171.8,191.0 L172.4,189.8 L172.9,188.7 L173.5,187.7 L174.1,186.7 L174.7,185.8 L175.3,185.0 L175.9,184.3 L176.5,183.6 L177.0,183.0 L177.6,182.4 L178.2,181.9 L178.8,181.5 L179.4,181.1 L180.0,180.7 L180.5,180.5 L181.1,180.2 L181.7,180.1 L182.3,179.9 L182.9,179.8 L183.5,179.8 L184.1,179.8 L184.6,179.9 L185.2,179.9 L185.8,180.1 L186.4,180.2 L187.0,180.4 L187.6,180.7 L188.1,180.9 L188.7,181.2 L189.3,181.6 L189.9,181.9 L190.5,182.3 L191.1,182.8 L191.7,183.2 L192.2,183.7 L192.8,184.2 L193.4,184.7 L194.0,185.3 L194.6,185.9 L195.2,186.5 L195.7,187.1 L196.3,187.8 L196.9,188.4 L197.5,189.1 L198.1,189.8 L198.7,190.6 L199.3,191.3 L199.8,192.1 L200.4,192.9 L201.0,193.7 L201.6,194.5 L202.2,195.3 L202.8,196.2 L203.3,197.0 L203.9,197.9 L204.5,198.8 L205.1,199.7 L205.7,200.6 L206.3,201.5 L206.9,202.4 L207.4,203.4 L208.0,204.3 L208.6,205.3 L209.2,206.3 L209.8,207.2 L210.4,208.2 L210.9,209.2 L211.5,210.2 L212.1,211.3 L212.7,212.3 L213.3,213.3 L213.9,214.3 L214.5,215.4 L215.0,216.4 L215.6,217.5 L216.2,218.5 L216.8,219.6 L217.4,220.7 L218.0,221.7 L218.5,222.8 L219.1,223.9 L219.7,225.0 L220.3,226.1 L220.9,227.2 L221.5,228.3 L222.1,229.4 L222.6,230.5 L223.2,231.6 L223.8,232.7 L224.4,233.8 L225.0,234.9 L225.6,236.0 L226.1,237.1 L226.7,238.3 L227.3,239.4 L227.9,240.5 L230.4,245.4 L233.0,250.3 L235.5,255.2 L238.1,260.1 L240.6,264.9 L243.2,269.8 L245.7,274.6 L248.3,279.3 L250.8,284.1 L253.4,288.7 L255.9,293.4 L258.5,298.0 L261.0,302.5 L263.6,306.9 L266.1,311.4 L268.6,315.7 L271.2,320.0 L273.7,324.2 L276.3,328.4 L278.8,332.5 L281.4,336.5 L283.9,340.5 L286.5,344.4 L289.0,348.3 L291.6,352.1 L294.1,355.8 L296.7,359.5 L299.2,363.1 L301.8,366.6 L304.3,370.1 L306.8,373.5 L309.4,376.9 L311.9,380.2 L314.5,383.5 L317.0,386.7 L319.6,389.8 L322.1,392.9 L324.7,396.0 L327.2,398.9 L329.8,401.9 L332.3,404.8 L334.9,407.6 L337.4,410.4 L339.9,413.1 L342.5,415.8 L345.0,418.5 L347.6,421.1 L350.1,423.6 L352.7,426.1 L355.2,428.6 L357.8,431.0 L360.3,433.4 L362.9,435.8 L365.4,438.1 L368.0,440.3 L370.5,442.6 L373.1,444.7 L375.6,446.9 L378.1,449.0 L380.7,451.1 L383.2,453.2 L385.8,455.2 L388.3,457.1 L390.9,459.1 L393.4,461.0 L396.0,462.9 L398.5,464.8 L401.1,466.6 L403.6,468.4 L406.2,470.1 L408.7,471.9 L411.3,473.6 L413.8,475.3 L416.3,476.9 L418.9,478.6 L421.4,480.2 L424.0,481.8 L426.5,483.3 L429.1,484.8 L431.6,486.4 L434.2,487.8 L436.7,489.3 L439.3,490.7 L441.8,492.2 L444.4,493.6 L446.9,494.9 L449.5,496.3 L452.0,497.6 L454.5,498.9 L457.1,500.2 L459.6,501.5 L462.2,502.8 L464.7,504.0 L467.3,505.2 L469.8,506.4 L472.4,507.6 L474.9,508.8 L477.5,509.9 L480.0,511.1 L482.6,512.2 L485.1,513.3 L487.7,514.4 L490.2,515.4 L492.7,516.5 L495.3,517.5 L497.8,518.6 L500.4,519.6 L502.9,520.6 L505.5,521.6 L508.0,522.5 L510.6,523.5 L513.1,524.4 L515.7,525.4 L518.2,526.3 L520.8,527.2 L523.3,528.1 L525.8,529.0 L528.4,529.9 L530.9,530.7 L533.5,531.6 L536.0,532.4 L538.6,533.2 L541.1,534.0 L543.7,534.8 L546.2,535.6 L548.8,536.4 L551.3,537.2 L553.9,538.0 L556.4,538.7 L559.0,539.5 L561.5,540.2 L564.0,540.9 L566.6,541.6 L569.1,542.4 L571.7,543.1 L574.2,543.7 L576.8,544.4 L579.3,545.1 L581.9,545.8 L584.4,546.4 L587.0,547.1 L589.5,547.7 L592.1,548.4 L594.6,549.0 L597.2,549.6 L599.7,550.2 L602.2,550.8 L604.8,551.4 L607.3,552.0 L609.9,552.6 L612.4,553.2 L615.0,553.7 L617.5,554.3 L620.1,554.8 L622.6,555.4 L625.2,555.9 L627.7,556.5 L630.3,557.0 L632.8,557.5 L635.4,558.1 L637.9,558.6 L640.4,559.1 L643.0,559.6 L645.5,560.1 L648.1,560.6 L650.6,561.0 L653.2,561.5 L655.7,562.0 L658.3,562.5 L660.8,562.9 L663.4,563.4 L665.9,563.9 L668.5,564.3 L671.0,564.7 L673.6,565.2 L676.1,565.6 L678.6,566.0 L681.2,566.5 L683.7,566.9 L686.3,567.3 L688.8,567.7 L691.4,568.1 L693.9,568.5 L696.5,568.9 L699.0,569.3 L701.6,569.7 L704.1,570.1 L706.7,570.5 L709.2,570.9 L711.7,571.2 L714.3,571.6 L716.8,572.0 L719.4,572.4 L721.9,572.7 L724.5,573.1 L727.0,573.4 L729.6,573.8 L732.1,574.1 L734.7,574.5 L737.2,574.8 L739.8,575.1 L742.3,575.5 L744.9,575.8 L747.4,576.1 L749.9,576.4 L752.5,576.8 L755.0,577.1 L757.6,577.4 L760.1,577.7 L762.7,578.0 L765.2,578.3 L767.8,578.6 L770.3,578.9 L772.9,579.2 L775.4,579.5 L778.0,579.8 L780.5,580.1 L783.1,580.4 L785.6,580.7" stroke="#993d90" stroke-dasharray="5 6.65 11.7 6.65" stroke-dashoffset="1.5"/>
</g>
<g fill="none" stroke-width="2.45">
<line x1="137.5" y1="26.7" x2="181.5" y2="26.7" stroke="#ff0000"/>
<line x1="331.2" y1="26.7" x2="375.2" y2="26.7" stroke="#993d71" stroke-dasharray="11.75 6.8"/>
<line x1="525.0" y1="26.7" x2="569.0" y2="26.7" stroke="#0000ff"/>
<line x1="137.5" y1="85.75" x2="181.5" y2="85.75" stroke="#3d9956" stroke-dasharray="5 6.5"/>
<line x1="331.2" y1="85.75" x2="375.2" y2="85.75" stroke="#ff00ff"/>
<line x1="525.0" y1="85.75" x2="569.0" y2="85.75" stroke="#993d90" stroke-dasharray="5 6.65 11.7 6.65"/>
</g>
<g font-family="'Liberation Serif', serif" fill="#000">
<text transform="translate(197.9,35.55) scale(1,1.03) rotate(0.03)" font-size="30">V<tspan font-size="20.9" dx="0.40" dy="5.63">+</tspan><tspan font-size="20.9" dx="0.4" dy="-1.26">2</tspan><tspan dx="3.20" dy="-4.37" font-size="28.2">(</tspan><tspan letter-spacing="0.32">l=2</tspan><tspan font-size="28.2" dx="0.3">)</tspan></text>
<text transform="translate(390.9,35.55) scale(1,1.03) rotate(0.03)" font-size="30">V<tspan font-size="20.9" dx="0.90" dy="5.63">−</tspan><tspan font-size="20.9" dx="0.4" dy="-1.26">2</tspan><tspan dx="3.40" dy="-4.37" font-size="28.2">(</tspan><tspan letter-spacing="0.42">l=2</tspan><tspan font-size="28.2" dx="0.3">)</tspan></text>
<text transform="translate(585.1,35.55) scale(1,1.03) rotate(0.03)" font-size="30">V<tspan font-size="20.9" dx="0.40" dy="5.63">+</tspan><tspan font-size="20.9" dx="0.4" dy="-1.26">2</tspan><tspan dx="4.00" dy="-4.37" font-size="28.2">(</tspan><tspan letter-spacing="0.25">l=3</tspan><tspan font-size="28.2" dx="0.3">)</tspan></text>
<text transform="translate(197.9,94.6) scale(1,1.03) rotate(0.03)" font-size="30">V<tspan font-size="20.9" dx="0.40" dy="5.63">−</tspan><tspan font-size="20.9" dx="0.4" dy="-1.26">2</tspan><tspan dx="4.70" dy="-4.37" font-size="28.2">(</tspan><tspan letter-spacing="-0.18">l=3</tspan><tspan font-size="28.2" dx="0.3">)</tspan></text>
<text transform="translate(390.9,94.6) scale(1,1.03) rotate(0.03)" font-size="30">V<tspan font-size="20.9" dx="1.20" dy="5.63">+</tspan><tspan font-size="20.9" dx="0.4" dy="-1.26">2</tspan><tspan dx="3.40" dy="-4.37" font-size="28.2">(</tspan><tspan letter-spacing="0.35">l=4</tspan><tspan font-size="28.2" dx="0.3">)</tspan></text>
<text transform="translate(585.1,94.6) scale(1,1.03) rotate(0.03)" font-size="30">V<tspan font-size="20.9" dx="0.40" dy="5.63">−</tspan><tspan font-size="20.9" dx="0.4" dy="-1.26">2</tspan><tspan dx="4.00" dy="-4.37" font-size="28.2">(</tspan><tspan letter-spacing="0.25">l=4</tspan><tspan font-size="28.2" dx="0.3">)</tspan></text>
<text transform="translate(34.5,551.69) scale(0.975,1.0) rotate(0.03)" font-size="24" text-anchor="end">50</text>
<text transform="translate(34.5,468.02) scale(0.975,1.0) rotate(0.03)" font-size="24" text-anchor="end">100</text>
<text transform="translate(34.5,384.36) scale(0.975,1.0) rotate(0.03)" font-size="24" text-anchor="end">150</text>
<text transform="translate(34.5,300.69) scale(0.975,1.0) rotate(0.03)" font-size="24" text-anchor="end">200</text>
<text transform="translate(34.5,217.03) scale(0.975,1.0) rotate(0.03)" font-size="24" text-anchor="end">250</text>
<text transform="translate(227.40,653.95) rotate(0.03)" font-size="24" text-anchor="middle">0.2</text>
<text transform="translate(413.30,653.95) rotate(0.03)" font-size="24" text-anchor="middle">0.4</text>
<text transform="translate(599.20,653.95) rotate(0.03)" font-size="24" text-anchor="middle">0.6</text>
<text transform="translate(785.10,653.95) rotate(0.03)" font-size="24" text-anchor="middle">0.8</text>
<text transform="translate(22.3,145.7) scale(0.9,1) rotate(0.03)" font-size="24" font-style="italic">V</text>
<text transform="translate(38.3,145.4) rotate(0.03)" font-size="21.5">(</text>
<text transform="translate(45.8,145.7) rotate(0.03)" font-size="24" font-style="italic">r</text>
<text transform="translate(55.3,145.4) rotate(0.03)" font-size="21.5">)</text>
<text transform="translate(819.1,634.9) scale(1,0.89) rotate(0.03)" font-size="24" font-style="italic">r</text>
</g>
</svg>
</body></html>
